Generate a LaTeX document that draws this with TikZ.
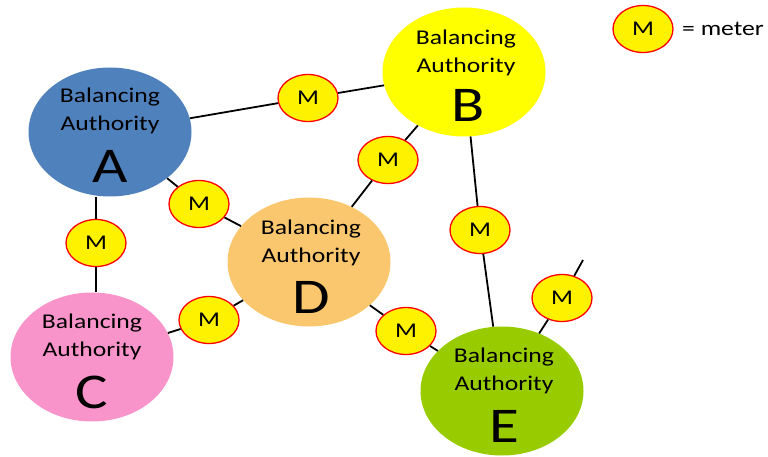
\documentclass[tikz,border=0pt]{standalone}
\usepackage{fontspec}
\setmainfont{Carlito}[FakeStretch=1.22]
\usetikzlibrary{shapes.geometric}
\definecolor{baBlue}{RGB}{79,129,189}
\definecolor{baYellow}{RGB}{255,255,0}
\definecolor{baPink}{RGB}{248,148,202}
\definecolor{baOrange}{RGB}{250,199,110}
\definecolor{baGreen}{RGB}{153,204,0}
\begin{document}
\begin{tikzpicture}[x=1pt,y=-1pt]
        \tikzstyle{authority}=[ellipse, minimum width=163pt, minimum height=129pt, inner sep=0pt]
        \tikzstyle{batext}=[anchor=base, align=center, inner sep=0pt, font=\fontsize{21}{28}\selectfont]
        \tikzstyle{baletter}=[anchor=base, inner sep=0pt, font=\fontsize{50}{50}\selectfont]
        \tikzstyle{meter}=[ellipse, draw=red, line width=1.3pt, fill=yellow, minimum width=60pt, minimum height=47pt, inner sep=0pt, font=\fontsize{21}{21}\selectfont]
        \tikzstyle{link}=[line width=1.8pt]
        \useasboundingbox (0,0) rectangle (768,457);
        \node[authority, fill=baBlue] (A) at (110,132) {};
        \node[authority, fill=baYellow] (B) at (464,72) {};
        \node[authority, fill=baPink] (C) at (92,357) {};
        \node[authority, fill=baOrange] (D) at (309,262) {};
        \node[authority, fill=baGreen] (E) at (502,391) {};
        \node[batext] (At) at (110,131) {Balancing\\Authority};
        \node[baletter] (Al) at (110,183) {A};
        \node[batext] (Bt) at (466,73) {Balancing\\Authority};
        \node[baletter] (Bl) at (468,122) {B};
        \node[batext] (Ct) at (92,356) {Balancing\\Authority};
        \node[baletter] (Cl) at (92,408) {C};
        \node[batext] (Dt) at (311,262) {Balancing\\Authority};
        \node[baletter] (Dl) at (311,313) {D};
        \node[batext] (Et) at (504,390) {Balancing\\Authority};
        \node[baletter] (El) at (504,442) {E};
        \node[meter] (mAB) at (308,98) {M};
        \node[meter] (mAC) at (96,243) {M};
        \node[meter] (mAD) at (199,204) {M};
        \node[meter] (mBD) at (388,160) {M};
        \node[meter] (mBE) at (480,230) {M};
        \node[meter] (mCD) at (209,320) {M};
        \node[meter] (mDE) at (406,331) {M};
        \node[meter] (mE) at (562,298) {M};
        \coordinate (Eout) at (583,260);
        \node[meter] (legend) at (643,29) {M};
        \node[anchor=west, inner sep=0pt, font=\fontsize{21}{21}\selectfont] (legendtext) at (682,29) {= meter};
        \draw[link] (A) -- (mAB) -- (B);
        \draw[link] (A.south -| mAC) -- (mAC) -- (C.north -| mAC);
        \draw[link] (A) -- (mAD) -- (D);
        \draw[link] (B) -- (mBD) -- (D);
        \draw[link] (B) -- (mBE) -- (E);
        \draw[link] (C) -- (mCD) -- (D);
        \draw[link] (D) -- (mDE) -- (E);
        \draw[link] (E) -- (mE) -- (Eout);
    \end{tikzpicture}
\end{document}
